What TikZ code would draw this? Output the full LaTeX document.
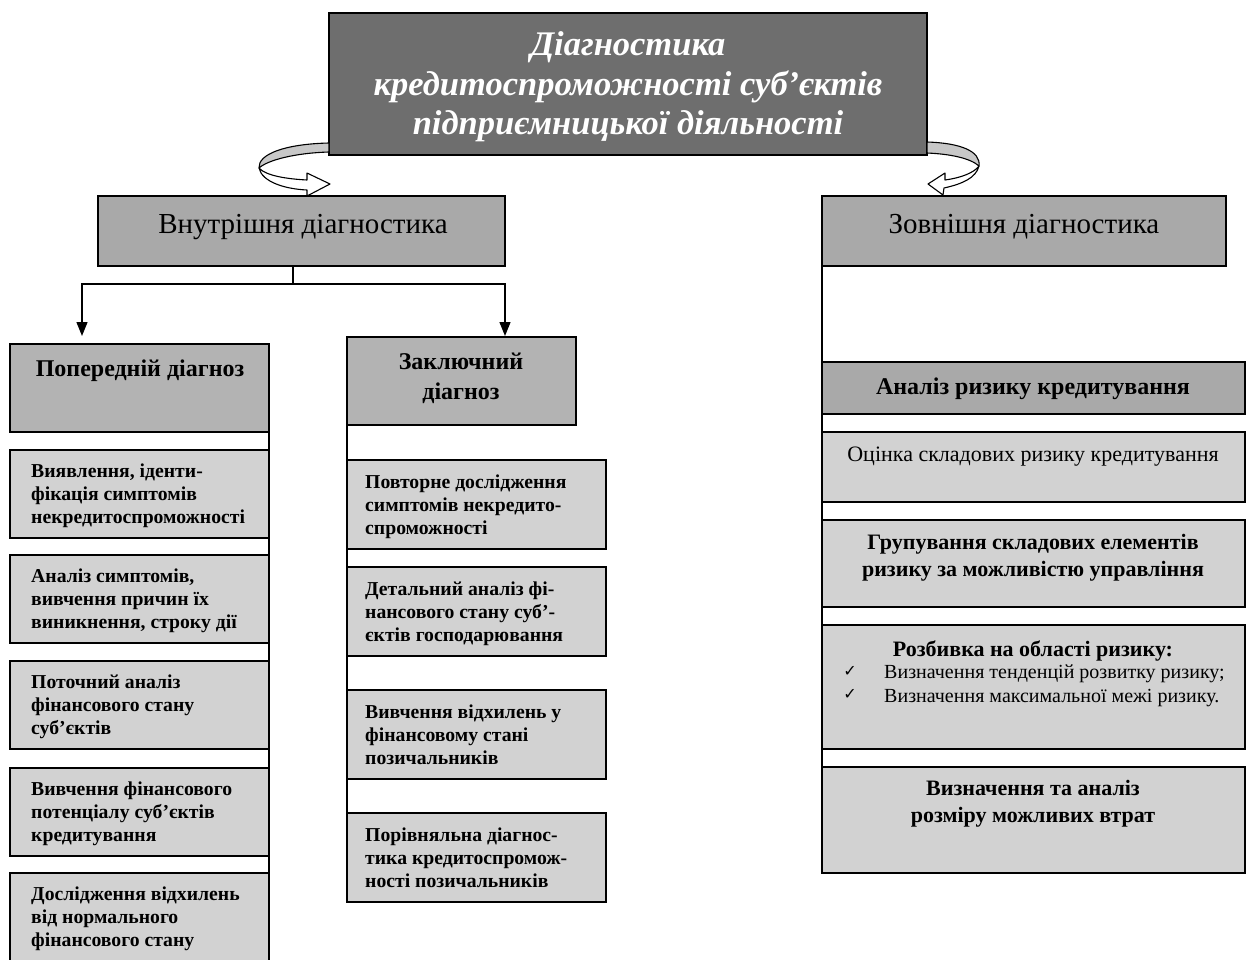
\documentclass[tikz,border=0pt]{standalone}
\usepackage{fontspec}
\setmainfont{Liberation Serif}
\newfontfamily\symfont{DejaVu Sans}
\usetikzlibrary{arrows.meta}
\definecolor{titlegray}{HTML}{6E6E6E}
\definecolor{headgray}{HTML}{A9A9A9}
\definecolor{midgray}{HTML}{B3B3B3}
\definecolor{lightbox}{HTML}{D2D2D2}
\definecolor{bandgray}{HTML}{C8C8C8}
\begin{document}
\begin{tikzpicture}[x=1pt,y=-1pt,
  box/.style={draw=black, line width=1.5pt, anchor=north west, inner sep=0pt, outer sep=0pt},
  conn/.style={draw=black, line width=1.3pt},
  arr/.style={conn, -{Triangle[length=14pt,width=11pt]}},
  btxt/.style={font=\bfseries\fontsize{19.7}{23}\selectfont, align=left, anchor=north west, inner sep=0pt},
  ctxt/.style={font=\bfseries\fontsize{22}{27}\selectfont, align=center, inner sep=0pt},
  head/.style={font=\fontsize{29}{30}\selectfont, inner sep=0pt},
  swirl/.style={draw=black, line width=1.1pt, line join=round}
]
\useasboundingbox (0,0) rectangle (1250,959);
\clip (0,0) rectangle (1250,959);

% title
\node[box, fill=titlegray, minimum width=598pt, minimum height=142pt] (title) at (329,13) {};
\node[font=\bfseries\itshape\fontsize{34.5}{39.5}\selectfont, text=white, align=center, inner sep=0pt] (titletxt) at (628,87)
  {Діагностика\\кредитоспроможності суб’єктів\\підприємницької діяльності};

% headers
\node[box, fill=headgray, minimum width=407pt, minimum height=70pt] (inner) at (98,196) {};
\node[head] (innertxt) at (303,227) {Внутрішня діагностика};
\node[box, fill=headgray, minimum width=404pt, minimum height=70pt] (outer) at (822,196) {};
\node[head] (outertxt) at (1024,227) {Зовнішня діагностика};

% swirl arrows
\draw[swirl, fill=bandgray] (329,143) .. controls (285,144) and (258,154) .. (259,168)
   .. controls (268,160) and (295,153) .. (329,152) -- cycle;
\draw[swirl, fill=white] (259,168) .. controls (262,182) and (285,189) .. (307,190)
   -- (307,196) -- (330,184) -- (307,173) -- (307,180)
   .. controls (288,179) and (266,176) .. (259,168) -- cycle;
\draw[swirl, fill=bandgray] (927,142) .. controls (960,143) and (981,151) .. (979,166)
   .. controls (970,158) and (950,154) .. (927,153) -- cycle;
\draw[swirl, fill=white] (979,166) .. controls (976,178) and (962,184) .. (944,188)
   -- (943,195) -- (928,184) -- (945,173) -- (945,180)
   .. controls (960,178) and (974,173) .. (979,166) -- cycle;

% diagnosis boxes
\node[box, fill=midgray, minimum width=259pt, minimum height=88pt] (pd) at (10,344) {};
\node[font=\bfseries\fontsize{24}{23}\selectfont, inner sep=0pt] (pdtxt) at (140,371) {Попередній діагноз};
\node[box, fill=midgray, minimum width=229pt, minimum height=88pt] (zd) at (347,337) {};
\node[font=\bfseries\fontsize{24}{30}\selectfont, align=center, inner sep=0pt] (zdtxt) at (461,378) {Заключний\\діагноз};

\coordinate (split) at (293,284);
\coordinate (arrL) at (82,336);
\coordinate (arrR) at (505,336);
\draw[conn] (split |- inner.south) -- (split);
\draw[arr] (split) -| (arrL);
\draw[arr] (split) -| (arrR);

% left column
\coordinate (lbot) at (269,965);
\draw[conn, line width=1.5pt] (pd.south east) -- (lbot);
\node[box, fill=lightbox, minimum width=259pt, minimum height=88pt] (l1) at (10,450) {};
\node[btxt] (l1t) at (31,464) {Виявлення, іденти-\\фікація симптомів\\некредитоспроможності};
\node[box, fill=lightbox, minimum width=259pt, minimum height=88pt] (l2) at (10,555) {};
\node[btxt] (l2t) at (31,569) {Аналіз симптомів,\\вивчення причин їх\\виникнення, строку дії};
\node[box, fill=lightbox, minimum width=259pt, minimum height=88pt] (l3) at (10,661) {};
\node[btxt] (l3t) at (31,675) {Поточний аналіз\\фінансового стану\\суб’єктів};
\node[box, fill=lightbox, minimum width=259pt, minimum height=88pt] (l4) at (10,768) {};
\node[btxt] (l4t) at (31,782) {Вивчення фінансового\\потенціалу суб’єктів\\кредитування};
\node[box, fill=lightbox, minimum width=259pt, minimum height=100pt] (l5) at (10,873) {};
\node[btxt] (l5t) at (31,887) {Дослідження відхилень\\від нормального\\фінансового стану};

% middle column
\node[box, fill=lightbox, minimum width=259pt, minimum height=89pt] (m1) at (347,460) {};
\node[btxt] (m1t) at (365,475) {Повторне дослідження\\симптомів некредито-\\спроможності};
\node[box, fill=lightbox, minimum width=259pt, minimum height=89pt] (m2) at (347,567) {};
\node[btxt] (m2t) at (365,582) {Детальний аналіз фі-\\нансового стану суб’-\\єктів господарювання};
\node[box, fill=lightbox, minimum width=259pt, minimum height=89pt] (m3) at (347,690) {};
\node[btxt] (m3t) at (365,705) {Вивчення відхилень у\\фінансовому стані\\позичальників};
\node[box, fill=lightbox, minimum width=259pt, minimum height=89pt] (m4) at (347,813) {};
\node[btxt] (m4t) at (365,828) {Порівняльна діагнос-\\тика кредитоспромож-\\ності позичальників};
\draw[conn, line width=1.5pt] (zd.south west) -- (m4.south west);

% right column
\node[box, fill=headgray, minimum width=423pt, minimum height=52pt] (r1) at (822,362) {};
\node[font=\bfseries\fontsize{24}{23}\selectfont, inner sep=0pt] (r1t) at (1033,389) {Аналіз ризику кредитування};
\node[box, fill=lightbox, minimum width=423pt, minimum height=70pt] (r2) at (822,432) {};
\node[font=\fontsize{22}{23}\selectfont, inner sep=0pt] (r2t) at (1033,457) {Оцінка складових ризику кредитування};
\node[box, fill=lightbox, minimum width=423pt, minimum height=87pt] (r3) at (822,520) {};
\node[ctxt] (r3t) at (1033,558) {Групування складових елементів\\ризику за можливістю управління};
\node[box, fill=lightbox, minimum width=423pt, minimum height=124pt] (r4) at (822,625) {};
\node[font=\bfseries\fontsize{22}{23}\selectfont, inner sep=0pt] (r4t) at (1033,651) {Розбивка на області ризику:};
\node[font=\symfont\fontsize{16}{24}\selectfont, inner sep=0pt] (ck1) at (850,671) {✓};
\node[font=\symfont\fontsize{16}{24}\selectfont, inner sep=0pt] (ck2) at (850,694) {✓};
\node[font=\fontsize{20}{24}\selectfont, anchor=west, inner sep=0pt] (b1) at (884,674) {Визначення тенденцій розвитку ризику;};
\node[font=\fontsize{20}{24}\selectfont, anchor=west, inner sep=0pt] (b2) at (884,698) {Визначення максимальної межі ризику.};
\node[box, fill=lightbox, minimum width=423pt, minimum height=106pt] (r5) at (822,767) {};
\node[ctxt] (r5t) at (1033,804) {Визначення та аналіз\\розміру можливих втрат};
\draw[conn, line width=1.5pt] (outer.south west) -- (r5.south west);
\end{tikzpicture}
\end{document}
